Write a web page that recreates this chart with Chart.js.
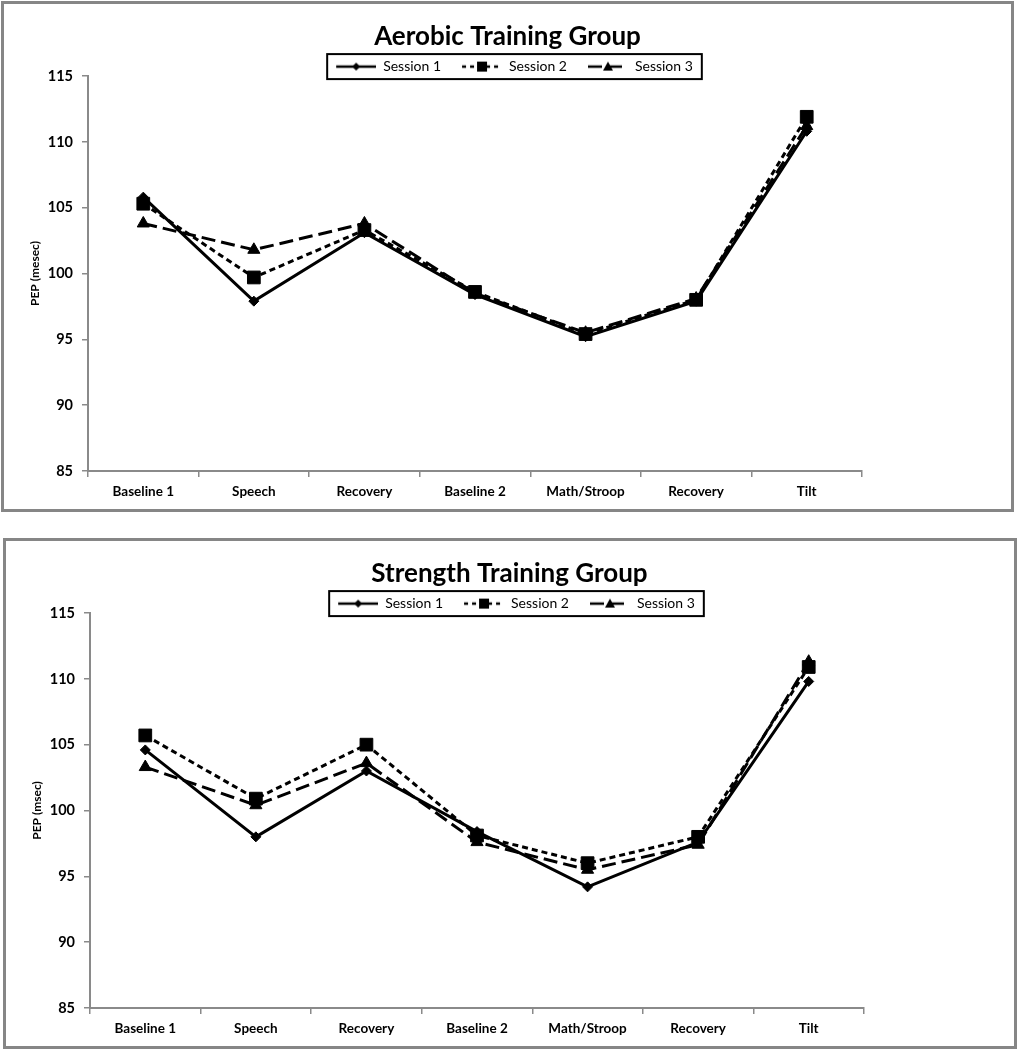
<!DOCTYPE html>
<html>
<head>
<meta charset="utf-8">
<title>PEP by group</title>
<script src="https://cdn.jsdelivr.net/npm/chart.js@4/dist/chart.umd.min.js"></script>
<style>
  html, body { margin: 0; padding: 0; background: #fff; }
  body { position: relative; width: 1018px; height: 1050px; overflow: hidden; }
  .panel { position: absolute; box-sizing: border-box; border: 3px solid #868686; background: #fff; }
  #topPanel { left: 1px; top: 1px; width: 1013px; height: 511px; }
  #bottomPanel { left: 3px; top: 538px; width: 1014px; height: 511px; }
  canvas { display: block; }
</style>
</head>
<body>
<div class="panel" id="topPanel"><canvas id="aerobicChart" width="1007" height="505"></canvas></div>
<div class="panel" id="bottomPanel"><canvas id="strengthChart" width="1007" height="505"></canvas></div>
<script>
'use strict';

// categories on the x axis
var categories = ['Baseline 1', 'Speech', 'Recovery', 'Baseline 2', 'Math/Stroop', 'Recovery', 'Tilt'];
var seriesNames = ['Session 1', 'Session 2', 'Session 3'];

// Aerobic training group (PEP, msec)
var aerobicSession1 = [105.8, 97.9, 103.1, 98.4, 95.2, 97.9, 110.8];
var aerobicSession2 = [105.3, 99.7, 103.3, 98.6, 95.4, 98.0, 111.9];
var aerobicSession3 = [103.8, 101.8, 103.8, 98.5, 95.5, 98.1, 111.2];

// Strength training group (PEP, msec)
var strengthSession1 = [104.6, 98.0, 103.0, 98.4, 94.2, 97.6, 109.8];
var strengthSession2 = [105.7, 100.9, 105.0, 98.1, 96.0, 98.0, 110.9];
var strengthSession3 = [103.3, 100.4, 103.6, 97.6, 95.5, 97.4, 111.3];

// y axis
var yMin = 85;
var yMax = 115;
var yStep = 5;

var FONT = 'Lato';
var AXIS_GREY = '#8a8a8a';

// line dash + marker for each session
var seriesStyles = [
  {dash: [], marker: 'rectRot', radius: 5},
  {dash: [6, 4], marker: 'rect', radius: 9},
  {dash: [14, 6], marker: 'triangle', radius: 7}
];
var legendDashes = [[], [4, 4], [14, 6]];

// small picture for the legend: line sample with the marker in the middle
function legendSample(index) {
  var c = document.createElement('canvas');
  c.width = 54;
  c.height = 16;
  var g = c.getContext('2d');
  g.strokeStyle = '#000';
  g.fillStyle = '#000';
  g.lineWidth = 2.5;
  g.setLineDash(legendDashes[index]);
  g.beginPath();
  g.moveTo(14, 8);
  g.lineTo(54, 8);
  g.stroke();
  g.setLineDash([]);
  var cx = 34, cy = 8;
  g.beginPath();
  if (index === 0) {
    g.moveTo(cx, cy - 4); g.lineTo(cx + 4, cy); g.lineTo(cx, cy + 4); g.lineTo(cx - 4, cy);
  } else if (index === 1) {
    g.rect(cx - 5, cy - 5, 10, 10);
  } else {
    g.moveTo(cx, cy - 5); g.lineTo(cx + 5, cy + 4); g.lineTo(cx - 5, cy + 4);
  }
  g.closePath();
  g.fill();
  return c;
}

var legendImages = [legendSample(0), legendSample(1), legendSample(2)];

// draws the black frame round the legend items
var legendBorder = {
  id: 'legendBorder',
  beforeInit: function(chart) {
    var fit = chart.legend.fit;
    chart.legend.fit = function() {
      fit.bind(chart.legend)();
      this.height = 23.4;
    };
  },
  afterDraw: function(chart) {
    var hb = chart.legend.legendHitBoxes;
    if (!hb || !hb.length) return;
    var last = hb[hb.length - 1];
    var left = hb[0].left + 5;
    var right = last.left + last.width + 9;
    var cy = hb[0].top + hb[0].height / 2;
    var ctx = chart.ctx;
    ctx.save();
    ctx.strokeStyle = '#000';
    ctx.lineWidth = 2;
    ctx.strokeRect(left, cy - 12.5, right - left, 25);
    ctx.restore();
  }
};

function buildDatasets(s1, s2, s3) {
  return [s1, s2, s3].map(function(values, i) {
    var st = seriesStyles[i];
    return {
      label: seriesNames[i],
      data: values,
      borderColor: '#000',
      backgroundColor: '#000',
      borderWidth: 3,
      borderDash: st.dash,
      pointStyle: st.marker,
      pointRadius: st.radius,
      pointBackgroundColor: '#000',
      pointBorderColor: '#000',
      pointBorderWidth: 1,
      tension: 0,
      fill: false
    };
  });
}

function makeChart(canvasId, title, yTitle, s1, s2, s3) {
  var ctx = document.getElementById(canvasId).getContext('2d');
  return new Chart(ctx, {
    type: 'line',
    data: {
      labels: categories,
      datasets: buildDatasets(s1, s2, s3)
    },
    options: {
      responsive: false,
      animation: false,
      layout: {padding: {left: 0, right: 0, top: 0, bottom: 0}},
      plugins: {
        tooltip: {enabled: false},
        title: {
          display: true,
          text: title,
          color: '#000',
          font: {family: FONT, size: 26, weight: 'bold'},
          padding: {top: 17.4, bottom: 0}
        },
        legend: {
          display: true,
          position: 'top',
          labels: {
            usePointStyle: true,
            pointStyleWidth: 54,
            padding: 7,
            color: '#000',
            font: {family: FONT, size: 14},
            generateLabels: function(chart) {
              return chart.data.datasets.map(function(ds, i) {
                return {
                  text: ds.label,
                  pointStyle: legendImages[i],
                  fillStyle: '#000',
                  strokeStyle: '#000',
                  lineWidth: 0,
                  fontColor: '#000',
                  hidden: false,
                  datasetIndex: i
                };
              });
            }
          }
        }
      },
      scales: {
        x: {
          type: 'category',
          offset: true,
          border: {display: true, color: AXIS_GREY, width: 2},
          grid: {display: true, offset: true, drawOnChartArea: false, drawTicks: true, tickLength: 6, color: AXIS_GREY, lineWidth: 1.5},
          ticks: {color: '#000', padding: 7, maxRotation: 0, font: {family: FONT, size: 13.5, weight: 'bold'}},
          afterFit: function(scale) { scale.height = 38; }
        },
        y: {
          min: yMin,
          max: yMax,
          border: {display: true, color: AXIS_GREY, width: 2},
          grid: {display: true, drawOnChartArea: false, drawTicks: true, tickLength: 6, color: AXIS_GREY, lineWidth: 1.5},
          ticks: {stepSize: yStep, color: '#000', padding: 9, font: {family: FONT, size: 14.5, weight: 'bold'}},
          title: {display: true, text: yTitle, color: '#000', padding: {top: 24, bottom: 0}, font: {family: FONT, size: 12, weight: 'bold'}},
          afterFit: function(scale) { scale.width = 84; }
        },
        // empty space on the right of the plot
        yRight: {
          position: 'right',
          display: true,
          border: {display: false},
          grid: {display: false},
          ticks: {display: false},
          afterFit: function(scale) { scale.width = 149; }
        }
      }
    },
    plugins: [legendBorder]
  });
}

makeChart('aerobicChart', 'Aerobic Training Group', 'PEP (mesec)', aerobicSession1, aerobicSession2, aerobicSession3);
makeChart('strengthChart', 'Strength Training Group', 'PEP (msec)', strengthSession1, strengthSession2, strengthSession3);
</script>
</body>
</html>
